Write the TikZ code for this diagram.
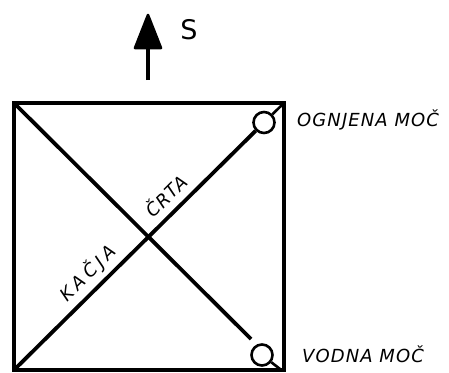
\documentclass[tikz,border=0pt]{standalone}
\usepackage{fontspec}
\setmainfont{DejaVu Sans}
\newfontfamily\hand{DejaVu Sans}[LetterSpace=6]
\newfontfamily\handwide{DejaVu Sans}[LetterSpace=22]
\tikzset{
  heavy/.style={line width=3.8pt},
  lbl/.style={font=\hand\fontsize{18}{18}\selectfont\itshape, inner sep=0pt},
  ring/.style={circle, draw, line width=2.6pt, minimum size=21pt, inner sep=0pt}
}
\begin{document}
\begin{tikzpicture}[x=1pt,y=-1pt]
\useasboundingbox (0,0) rectangle (449,372);
\coordinate (tl) at (14,103);
\coordinate (tr) at (284,103);
\coordinate (bl) at (14,370);
\coordinate (br) at (284,370);
\draw[heavy, line join=miter] (tl) -- (tr) -- (br) -- (bl) -- cycle;
\node[ring] (fire) at (264,122.5) {};
\node[ring] (water) at (262,355) {};
\coordinate (dend) at (251,339);
\coordinate (wend) at (280,369);
\draw[heavy] (tl) -- (dend);
\draw[heavy] (bl) -- (fire);
\draw[line width=2.6pt] (fire) -- (tr);
\draw[line width=2.6pt] (water) -- (wend);
% arrow
\coordinate (ab) at (148,80);
\coordinate (at) at (148,15);
\coordinate (am) at (148,46);
\draw[line width=3.8pt] (ab) -- (am);
\fill (at) -- (161,48) -- (135,48) -- cycle;
\draw[line width=2.6pt, line join=round] (at) -- (161,48) -- (135,48) -- cycle;
\node[inner sep=0pt, font=\fontsize{27}{27}\selectfont] (s) at (189,30) {S};
\node[lbl, anchor=west] (fl) at (297,120) {OGNJENA MOČ};
\node[lbl, anchor=west] (wl) at (302,354) {VODNA MOČ};
\node[lbl, rotate=45] (crta) at (165.5,195.5) {ČRTA};
\node[lbl, font=\handwide\fontsize{18}{18}\selectfont\itshape, rotate=45] (kacja) at (88,273) {KAČJA};
\end{tikzpicture}
\end{document}
